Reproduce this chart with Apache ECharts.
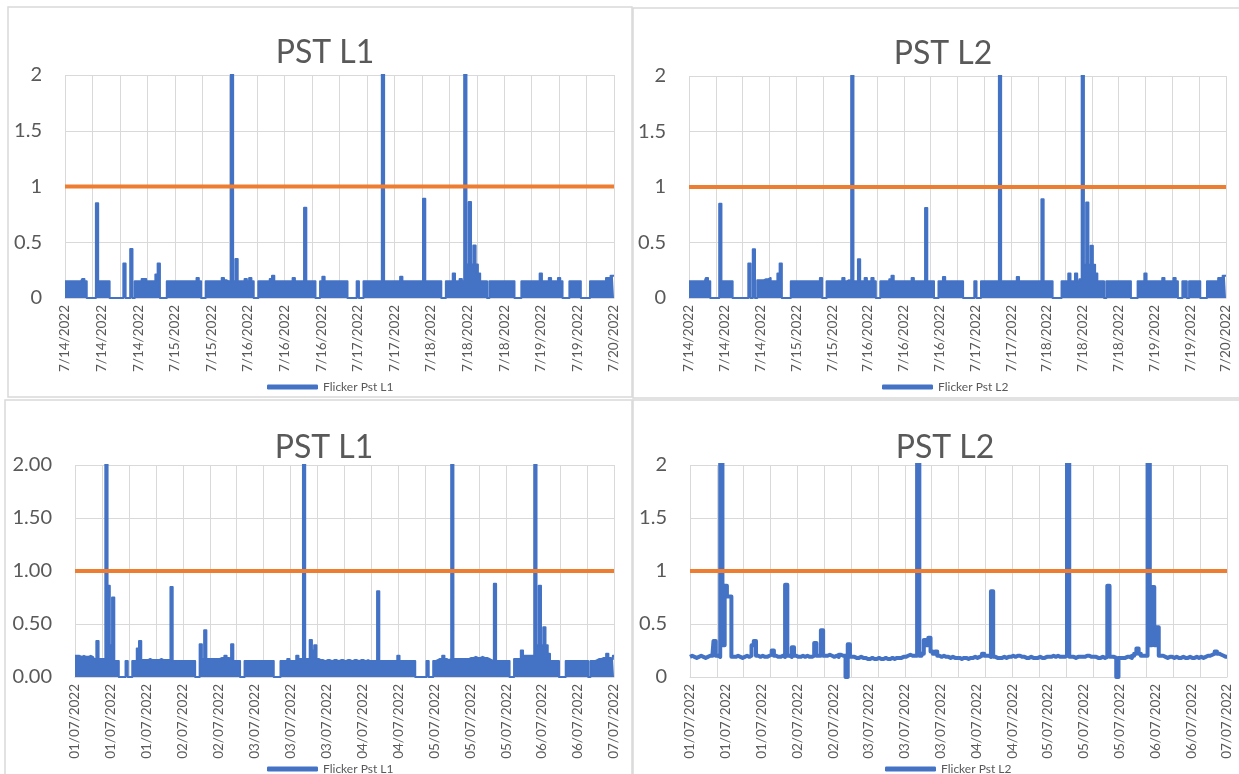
<!DOCTYPE html>
<html>
<head>
<meta charset="utf-8">
<script src="https://cdn.jsdelivr.net/npm/echarts@6.0.0/dist/echarts.min.js"></script>
<style>
html, body { margin: 0; padding: 0; background: #ffffff; }
#chart { width: 1239px; height: 774px; }
</style>
</head>
<body>
<div id="chart"></div>
<script>
// ---------- DATA (one sample every 0.025 day from the first label) ----------
const sampleStepDays = 0.025;

// Flicker Pst L1, 7/14/2022 - 7/20/2022 (upper envelope of the signal)
const tlValues = [
  0.15,0.15,0.15,0.15,0.15,0.15,0.15,0.15,0.17,0.15,
  0,0,0,0,0.85,0.15,0.15,0.15,0.15,0.15,
  0,0,0,0,0,0,0.31,0,0,0.44,
  0,0.15,0.15,0.15,0.17,0.17,0.15,0.15,0.15,0.15,
  0.21,0.31,0,0,0,0.15,0.15,0.15,0.15,0.15,
  0.15,0.15,0.15,0.15,0.15,0.15,0.15,0.15,0.18,0.15,
  0,0,0.15,0.15,0.15,0.15,0.15,0.15,0.15,0.18,
  0.16,0.15,0.15,3.5,0.15,0.35,0.15,0.15,0.15,0.17,
  0.15,0.18,0.15,0,0,0.15,0.15,0.15,0.15,0.15,
  0.17,0.2,0.15,0.15,0.15,0.15,0.15,0.15,0.15,0.15,
  0.18,0.15,0.15,0.15,0.15,0.81,0.15,0.15,0.15,0.15,
  0,0,0.15,0.19,0.15,0.15,0.15,0.15,0.15,0.15,
  0.15,0.15,0.15,0.15,0,0,0,0,0.15,0,
  0,0.15,0.15,0.15,0.15,0.15,0.15,0.15,0.15,3.5,
  0.15,0.15,0.15,0.15,0.15,0.15,0.15,0.19,0.15,0.15,
  0.15,0.15,0.15,0.15,0.15,0.15,0.15,0.89,0.15,0.15,
  0.15,0.15,0.15,0.15,0.15,0,0,0.15,0.15,0.15,
  0.22,0.15,0.15,0.17,0.15,3.5,0.3,0.86,0.3,0.47,
  0.3,0.22,0.15,0.15,0.15,0,0.15,0.15,0.15,0.15,
  0.15,0.15,0.15,0.15,0.15,0.15,0.15,0,0,0,
  0.15,0.15,0.15,0.15,0.15,0.15,0.15,0.15,0.22,0.15,
  0.15,0.15,0.18,0.15,0.15,0.15,0.18,0.15,0,0,
  0,0.15,0.15,0.15,0.15,0.15,0,0,0,0,
  0.15,0.15,0.15,0.15,0.15,0.15,0.15,0.18,0.18,0.2,
  0.2
];

// Flicker Pst L2, 7/14/2022 - 7/20/2022
const trValues = [
  0.15,0.15,0.15,0.15,0.15,0.15,0.15,0.15,0.18,0.15,
  0,0,0,0,0.85,0.15,0.15,0.15,0.15,0.15,
  0,0,0,0,0,0,0,0.31,0,0.44,
  0,0.16,0.16,0.16,0.17,0.17,0.18,0.15,0.15,0.15,
  0.22,0.31,0,0,0,0,0.15,0.15,0.15,0.15,
  0.15,0.15,0.15,0.15,0.15,0.15,0.15,0.15,0.15,0.18,
  0,0,0.15,0.15,0.15,0.15,0.15,0.15,0.15,0.18,
  0.15,0.16,0.15,3.5,0.15,0.15,0.35,0.15,0.15,0.18,
  0.15,0.15,0.18,0.15,0,0,0.15,0.15,0.15,0.15,
  0.17,0.2,0.15,0.15,0.15,0.15,0.15,0.15,0.15,0.15,
  0.18,0.15,0.15,0.15,0.15,0.15,0.81,0.15,0.15,0.15,
  0,0,0.15,0.15,0.19,0.15,0.15,0.15,0.15,0.15,
  0.15,0.15,0.15,0,0,0,0,0,0.15,0,
  0,0.15,0.15,0.15,0.15,0.15,0.15,0.15,0.15,3.5,
  0.15,0.15,0.15,0.15,0.15,0.15,0.15,0.19,0.15,0.15,
  0.15,0.15,0.15,0.15,0.15,0.15,0.15,0.15,0.89,0.15,
  0.15,0.15,0.15,0,0,0,0,0.15,0.15,0.15,
  0.22,0.15,0.15,0.22,0.15,0.17,3.5,0.3,0.86,0.3,
  0.47,0.3,0.22,0.15,0.15,0.15,0,0.15,0.15,0.15,
  0.15,0.15,0.15,0.15,0.15,0.15,0.15,0.15,0,0,
  0,0.15,0.15,0.15,0.22,0.15,0.15,0.15,0.15,0.15,
  0.15,0.15,0.18,0.15,0.15,0.15,0.15,0.18,0.15,0,
  0,0.15,0.15,0,0.15,0.15,0.15,0.15,0.15,0,
  0,0,0.15,0.15,0.15,0.15,0.15,0.18,0.18,0.2,
  0.2
];

// Flicker Pst L1, 01/07/2022 - 07/07/2022
const blValues = [
  0.2,0.2,0.2,0.19,0.2,0.19,0.19,0.2,0.19,0.17,
  0.34,0.17,0.17,0.17,3.5,0.86,0.3,0.75,0.15,0.15,
  0,0,0,0.15,0,0,0.15,0.15,0.27,0.34,
  0.16,0.16,0.16,0.17,0.16,0.16,0.16,0.16,0.17,0.16,
  0.16,0.16,0.16,0.85,0.15,0.15,0.15,0.15,0.15,0.15,
  0.15,0.15,0.15,0.15,0,0,0.31,0.17,0.44,0.17,
  0.17,0.17,0.17,0.17,0.17,0.18,0.18,0.2,0.18,0.17,
  0.31,0.15,0.15,0.15,0,0,0.15,0.15,0.15,0.15,
  0.15,0.15,0.15,0.15,0.15,0.15,0.15,0.15,0.15,0,
  0,0,0.15,0.15,0.15,0.17,0.15,0.15,0.15,0.2,
  0.17,0.17,3.5,0.17,0.17,0.35,0.25,0.3,0.17,0.16,
  0.16,0.15,0.16,0.16,0.15,0.16,0.16,0.15,0.16,0.16,
  0.15,0.16,0.16,0.15,0.16,0.16,0.15,0.16,0.16,0.15,
  0.16,0.15,0.15,0.15,0.15,0.81,0.15,0.15,0.15,0.15,
  0.15,0.15,0.15,0.15,0.2,0.15,0.15,0.15,0.15,0.15,
  0.15,0.15,0,0,0,0,0,0.15,0,0,
  0.15,0.16,0.17,0.17,0.2,0.17,0.16,0.17,3.5,0.17,
  0.17,0.17,0.17,0.17,0.17,0.17,0.18,0.18,0.19,0.18,
  0.18,0.19,0.18,0.18,0.17,0.16,0.15,0.88,0.15,0.15,
  0.15,0.15,0.15,0.15,0,0,0.17,0.17,0.17,0.25,
  0.2,0.2,0.2,0.2,0.2,3.5,0.3,0.86,0.3,0.47,
  0.3,0.22,0.15,0.15,0.15,0.15,0,0,0,0.15,
  0.15,0.15,0.15,0.15,0.15,0.15,0.15,0.15,0.15,0,
  0.15,0.15,0.16,0.17,0.17,0.18,0.18,0.22,0.18,0.17,
  0.2
];

// Flicker Pst L2, 01/07/2022 - 07/07/2022
const brValues = [
  0.19,0.2,0.19,0.18,0.19,0.2,0.19,0.18,0.19,0.2,
  0.2,0.34,0.2,0.19,3.5,0.3,0.86,0.76,0.76,0.19,
  0.19,0.2,0.19,0.18,0.19,0.2,0.19,0.2,0.3,0.34,
  0.2,0.19,0.2,0.19,0.19,0.2,0.21,0.25,0.2,0.19,
  0.19,0.2,0.19,0.87,0.2,0.19,0.28,0.2,0.19,0.19,
  0.2,0.19,0.2,0.19,0.19,0.2,0.32,0.2,0.2,0.44,
  0.2,0.2,0.21,0.2,0.19,0.2,0.19,0.21,0.2,0.2,
  0,0.31,0.19,0.19,0.18,0.18,0.19,0.18,0.18,0.17,
  0.17,0.18,0.17,0.17,0.18,0.17,0.17,0.18,0.17,0.17,
  0.18,0.17,0.18,0.18,0.18,0.19,0.19,0.2,0.21,0.2,
  0.2,0.2,3.5,0.2,0.22,0.35,0.3,0.37,0.24,0.22,
  0.24,0.2,0.19,0.2,0.19,0.19,0.18,0.19,0.18,0.18,
  0.18,0.17,0.18,0.18,0.17,0.18,0.18,0.19,0.18,0.19,
  0.2,0.22,0.2,0.2,0.19,0.81,0.19,0.18,0.18,0.18,
  0.19,0.18,0.19,0.19,0.2,0.19,0.2,0.2,0.19,0.19,
  0.18,0.18,0.19,0.18,0.18,0.18,0.19,0.18,0.18,0.19,
  0.19,0.19,0.2,0.19,0.2,0.19,0.19,0.19,0.2,3.5,
  0.19,0.19,0.18,0.19,0.19,0.19,0.19,0.2,0.2,0.19,
  0.19,0.19,0.18,0.18,0.19,0.18,0.19,0.86,0.19,0.19,
  0.18,0,0.18,0.18,0.18,0.19,0.19,0.18,0.2,0.22,
  0.27,0.22,0.2,0.2,0.2,3.5,0.3,0.85,0.3,0.47,
  0.2,0.2,0.19,0.18,0.19,0.19,0.18,0.19,0.18,0.18,
  0.19,0.18,0.18,0.19,0.18,0.18,0.19,0.18,0.19,0.18,
  0.19,0.2,0.2,0.21,0.22,0.24,0.22,0.21,0.2,0.19,
  0.19
];

// limit line (Pst = 1)
const limitDays = [0, 6];
const limitValues = [1, 1];

// tick labels
const topDateLabels = ['7/14/2022','7/14/2022','7/14/2022','7/15/2022','7/15/2022','7/16/2022','7/16/2022','7/16/2022','7/17/2022','7/17/2022','7/18/2022','7/18/2022','7/18/2022','7/19/2022','7/19/2022','7/20/2022'];
const bottomDateLabels = ['01/07/2022','01/07/2022','01/07/2022','02/07/2022','02/07/2022','03/07/2022','03/07/2022','03/07/2022','04/07/2022','04/07/2022','05/07/2022','05/07/2022','05/07/2022','06/07/2022','06/07/2022','07/07/2022'];
const yTickPlain = ['0','0.5','1','1.5','2'];
const yTickFixed = ['0.00','0.50','1.00','1.50','2.00'];

const panelTitles = ['PST L1','PST L2','PST L1','PST L2'];
const seriesNames = ['Flicker Pst L1','Flicker Pst L2','Flicker Pst L1','Flicker Pst L2'];

// ---------- LAYOUT / STYLE ----------
const FONT = 'Lato, "Open Sans", sans-serif';
const GRAY_TEXT = '#595959';
const GRID_LINE = '#d9d9d9';
const BLUE = '#4472C4';
const ORANGE = '#ED7D31';

const panels = [
  { grid: {left: 65,  top: 75,  width: 549, height: 223}, title: [320, 32],  legend: [262, 376], values: tlValues, xLabels: topDateLabels,    yLabels: yTickPlain, area: true },
  { grid: {left: 689, top: 76,  width: 537, height: 222}, title: [938, 33],  legend: [877, 376], values: trValues, xLabels: topDateLabels,    yLabels: yTickPlain, area: true },
  { grid: {left: 75,  top: 465, width: 539, height: 212}, title: [319, 427], legend: [262, 758], values: blValues, xLabels: bottomDateLabels, yLabels: yTickFixed, area: true },
  { grid: {left: 690, top: 465, width: 537, height: 212}, title: [940, 427], legend: [880, 758], values: brValues, xLabels: bottomDateLabels, yLabels: yTickPlain, area: false }
];

const option = {
  animation: false,
  backgroundColor: '#ffffff',
  grid: [], xAxis: [], yAxis: [], series: [], title: [], legend: [],
  graphic: [
    { type: 'rect', shape: {x: 8,   y: 7,   width: 624, height: 390}, style: {fill: 'none', stroke: GRID_LINE, lineWidth: 1.5}, silent: true },
    { type: 'rect', shape: {x: 633, y: 8,   width: 620, height: 390}, style: {fill: 'none', stroke: GRID_LINE, lineWidth: 1.5}, silent: true },
    { type: 'rect', shape: {x: 5,   y: 400, width: 627, height: 390}, style: {fill: 'none', stroke: GRID_LINE, lineWidth: 1.5}, silent: true },
    { type: 'rect', shape: {x: 633, y: 400, width: 620, height: 390}, style: {fill: 'none', stroke: GRID_LINE, lineWidth: 1.5}, silent: true }
  ]
};

panels.forEach((p, k) => {
  option.grid.push(Object.assign({ outerBoundsMode: 'none', containLabel: false }, p.grid));

  // axis carrying the vertical gridlines (every 0.3 day)
  option.xAxis.push({
    gridIndex: k, type: 'value', min: 0, max: 6, interval: 0.3, position: 'bottom',
    axisLine: { show: true, lineStyle: { color: GRID_LINE, width: 1 } },
    axisTick: { show: false },
    axisLabel: { show: false },
    splitLine: { show: true, lineStyle: { color: GRID_LINE, width: 1 } }
  });
  // axis carrying the date labels (every 0.4 day)
  const labels = p.xLabels;
  option.xAxis.push({
    gridIndex: k, type: 'value', min: 0, max: 6, interval: 0.4, position: 'bottom',
    axisLine: { show: false }, axisTick: { show: false }, splitLine: { show: false },
    axisLabel: {
      show: true, rotate: 90, margin: 7, fontSize: 13.5, color: GRAY_TEXT, fontFamily: FONT,
      showMinLabel: true, showMaxLabel: true, hideOverlap: false,
      formatter: v => labels[Math.round(v / 0.4)]
    }
  });
  const yl = p.yLabels;
  option.yAxis.push({
    gridIndex: k, type: 'value', min: 0, max: 2, interval: 0.5,
    axisLine: { show: false }, axisTick: { show: false },
    splitLine: { show: true, lineStyle: { color: GRID_LINE, width: 1 } },
    axisLabel: { fontSize: 20, color: GRAY_TEXT, margin: 23, fontFamily: FONT, formatter: v => yl[Math.round(v / 0.5)] }
  });

  const s = {
    name: seriesNames[k], type: 'line', xAxisIndex: 2 * k, yAxisIndex: k,
    step: 'middle', symbol: 'none', clip: true, z: 2,
    itemStyle: { color: BLUE },
    lineStyle: { color: BLUE, width: p.area ? 2 : 4, join: 'round' },
    data: p.values.map((v, i) => [i * sampleStepDays, v])
  };
  if (p.area) s.areaStyle = { color: BLUE, opacity: 1 };
  option.series.push(s);

  option.series.push({
    name: 'Limit', type: 'line', xAxisIndex: 2 * k, yAxisIndex: k,
    symbol: 'none', z: 3, itemStyle: { color: ORANGE },
    lineStyle: { color: ORANGE, width: 4 },
    data: limitDays.map((d, i) => [d, limitValues[i]])
  });

  option.title.push({
    text: panelTitles[k], left: p.title[0], top: p.title[1], textAlign: 'center',
    textStyle: { fontSize: 32, fontWeight: 'normal', color: GRAY_TEXT, fontFamily: FONT }
  });

  option.legend.push({
    data: [seriesNames[k]], left: p.legend[0], top: p.legend[1],
    icon: 'roundRect', itemWidth: 51, itemHeight: 5, selectedMode: false,
    textStyle: { fontSize: 12, color: GRAY_TEXT, fontFamily: FONT }
  });
});

const chart = echarts.init(document.getElementById('chart'), null, { renderer: 'canvas' });
chart.setOption(option);
</script>
</body>
</html>
